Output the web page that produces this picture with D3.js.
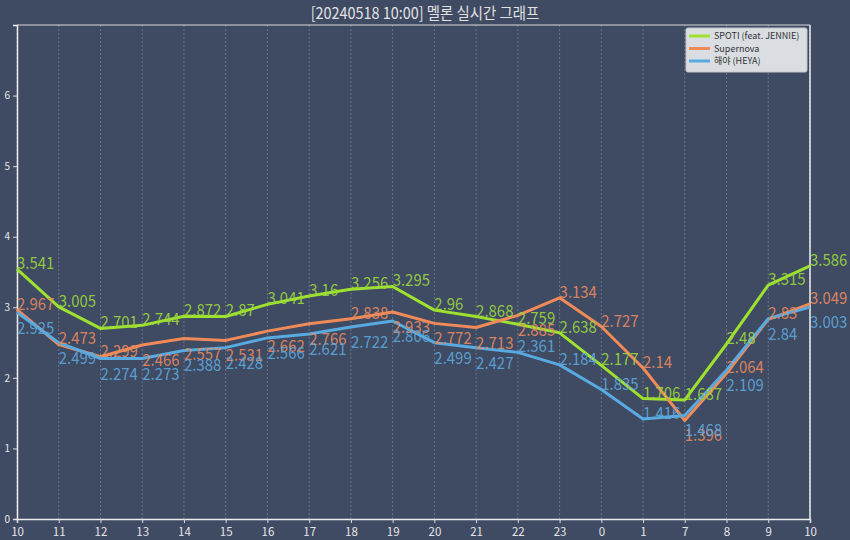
<!DOCTYPE html>
<html>
<head>
<meta charset="utf-8">
<script src="https://cdn.jsdelivr.net/npm/d3@7"></script>
<style>
  body { margin: 0; background: #3f4a63; }
  text { font-family: "Noto Sans CJK KR", "Noto Sans", sans-serif; }
</style>
</head>
<body>
<div id="chart"></div>
<script>
// hours on the x axis (as printed)
var hours = ["10","11","12","13","14","15","16","17","18","19","20","21","22","23","0","1","7","8","9","10"];

var spoti     = [3.541, 3.005, 2.701, 2.744, 2.872, 2.87, 3.041, 3.16, 3.256, 3.295, 2.96, 2.868, 2.759, 2.638, 2.177, 1.706, 1.687, 2.48, 3.315, 3.586];
var supernova = [2.967, 2.473, 2.299, 2.466, 2.557, 2.531, 2.662, 2.766, 2.838, 2.933, 2.772, 2.713, 2.885, 3.134, 2.727, 2.14, 1.396, 2.064, 2.83, 3.049];
var heya      = [2.925, 2.499, 2.274, 2.273, 2.388, 2.428, 2.566, 2.621, 2.722, 2.806, 2.499, 2.427, 2.361, 2.184, 1.835, 1.416, 1.468, 2.109, 2.84, 3.003];

var seriesNames = ["SPOTI (feat. JENNIE)", "Supernova", "해야 (HEYA)"];
var yTicks = [0, 1, 2, 3, 4, 5, 6];

// which value labels sit under their point instead of above it
var labelsBelow = [
    [],
    [3, 4, 5, 6, 7, 9, 10, 11, 12, 16],
    [0, 1, 2, 3, 4, 5, 6, 7, 8, 9, 10, 11, 16, 17, 18, 19]
];

var colors = ["#9ee22f", "#f08a58", "#58aae0"];
var labelColors = ["#9cd83c", "#e88a5e", "#5ea8dc"];

var width = 850, height = 540;
var margin = {top: 25, right: 40, bottom: 21, left: 17};

var svg = d3.select("#chart")
    .append("svg")
      .attr("width", width)
      .attr("height", height);

svg.append("rect")
    .attr("width", width)
    .attr("height", height)
    .attr("fill", "#3f4a63");

var x = d3.scalePoint()
    .domain(d3.range(hours.length))
    .range([margin.left, width - margin.right]);

var y = d3.scaleLinear()
    .domain([0, 7])
    .range([height - margin.bottom, margin.top]);

// vertical dashed grid
svg.append("g")
    .selectAll("line")
    .data(d3.range(hours.length))
    .enter()
    .append("line")
      .attr("x1", function(d) { return x(d); })
      .attr("x2", function(d) { return x(d); })
      .attr("y1", y(0))
      .attr("y2", y(7))
      .attr("stroke", "#ffffff")
      .attr("stroke-opacity", 0.3)
      .attr("stroke-width", 0.8)
      .attr("stroke-dasharray", "2,2");

// x axis
var xAxis = svg.append("g")
    .attr("transform", "translate(0," + y(0) + ")")
    .call(d3.axisBottom(x)
        .tickSize(4)
        .tickFormat(function(i) { return hours[i]; }));
xAxis.select(".domain").attr("stroke", "#eeeeee").attr("stroke-width", 1.5);
xAxis.selectAll(".tick line").attr("stroke", "#dddddd");
xAxis.selectAll(".tick text")
    .attr("fill", "#e6e6e6")
    .attr("dy", "0.9em")
    .style("font-size", "11.5px");

// y axis
var yAxis = svg.append("g")
    .attr("transform", "translate(" + margin.left + ",0)")
    .call(d3.axisLeft(y)
        .tickValues(yTicks)
        .tickFormat(d3.format("d"))
        .tickSize(4)
        .tickPadding(3));
yAxis.select(".domain").attr("stroke", "#eeeeee").attr("stroke-width", 1.5);
yAxis.selectAll(".tick line").attr("stroke", "#dddddd");
yAxis.selectAll(".tick text")
    .attr("fill", "#e6e6e6")
    .style("font-size", "10px");

// top and right frame
svg.append("line")
    .attr("x1", margin.left).attr("x2", width - margin.right)
    .attr("y1", y(7)).attr("y2", y(7))
    .attr("stroke", "#d8d8d8").attr("stroke-width", 1.2);
svg.append("line")
    .attr("x1", width - margin.right).attr("x2", width - margin.right)
    .attr("y1", y(7)).attr("y2", y(0))
    .attr("stroke", "#eeeeee").attr("stroke-width", 1.5);

var allSeries = [spoti, supernova, heya];

var line = d3.line()
    .x(function(d, i) { return x(i); })
    .y(function(d) { return y(d); });

allSeries.forEach(function(values, s) {
    svg.append("path")
        .datum(values)
        .attr("fill", "none")
        .attr("stroke", colors[s])
        .attr("stroke-width", 3)
        .attr("stroke-linejoin", "round")
        .attr("d", line);
});

// value labels
allSeries.forEach(function(values, s) {
    svg.append("g")
        .selectAll("text")
        .data(values)
        .enter()
        .append("text")
          .attr("transform", function(d, i) {
              var below = labelsBelow[s].indexOf(i) >= 0;
              return "translate(" + x(i) + "," + (y(d) + (below ? 21 : 0)) + ") scale(0.88,1)";
          })
          .attr("fill", labelColors[s])
          .attr("fill-opacity", 0.9)
          .style("font-size", "17px")
          .text(function(d) { return d; });
});

// title
svg.append("text")
    .attr("transform", "translate(" + (width / 2) + ",19) scale(0.9,1)")
    .attr("text-anchor", "middle")
    .attr("fill", "#e2e2e2")
    .style("font-size", "16px")
    .text("[20240518 10:00] 멜론 실시간 그래프");

// legend
var legend = svg.append("g").attr("transform", "translate(686,28)");
legend.append("rect")
    .attr("width", 121)
    .attr("height", 44)
    .attr("rx", 2)
    .attr("fill", "#dadde2")
    .attr("stroke", "#c4c7cc");
seriesNames.forEach(function(name, s) {
    legend.append("line")
        .attr("x1", 3).attr("x2", 24)
        .attr("y1", 8 + s * 12.5).attr("y2", 8 + s * 12.5)
        .attr("stroke", colors[s])
        .attr("stroke-width", 3);
    legend.append("text")
        .attr("x", 28)
        .attr("y", 11 + s * 12.5)
        .attr("fill", "#333333")
        .style("font-size", "9px")
        .text(name);
});
</script>
</body>
</html>
